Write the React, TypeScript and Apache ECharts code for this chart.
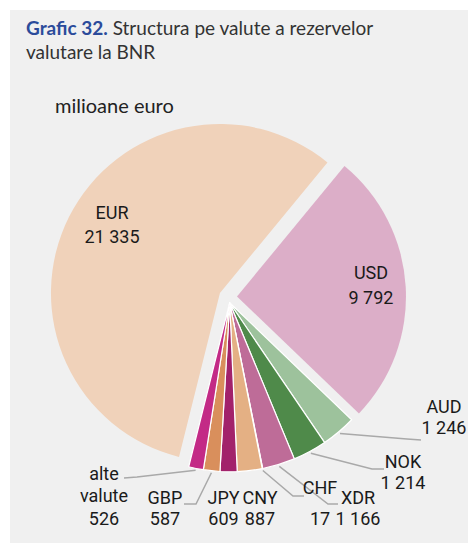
import React, { useEffect, useRef } from "react";
import * as echarts from "echarts";

// ---- data ----
const currencies = ["EUR", "USD", "AUD", "NOK", "XDR", "CHF", "CNY", "JPY", "GBP", "alte valute"];
const values = [21335, 9792, 1246, 1214, 1166, 17, 887, 609, 587, 526];
const labelNames = ["EUR", "USD", "AUD", "NOK", "XDR", "CHF", "CNY", "JPY", "GBP", "alte\nvalute"];
const titleBold = "Grafic 32.";
const titleRest = "Structura pe valute a rezervelor\nvalutare la BNR";
const unitLabel = "milioane euro";

// ---- styles / layout ----
const colors = ["#f0d2ba", "#dcaec8", "#9dc29c", "#4f8a4a", "#be6c98", "#ffffff", "#e4b084", "#a2226b", "#d98f5c", "#c32a86"];
const groups = [[0], [1], [2, 3, 4, 5, 6, 7, 8, 9]];
const groupOffsets = [9, 9, 6];
const C0 = [228, 297];
const R = 169;
const boundaryCw = 39.5; // EUR/USD boundary, degrees clockwise from 12 o'clock
const labelFont = "Roboto, 'Liberation Sans', sans-serif";
const labelPos: Record<number, { x: number; y: number; lh: number; line?: number[][] }> = {
  0: { x: 112, y: 224, lh: 24 },
  1: { x: 371, y: 284.5, lh: 25 },
  2: { x: 444, y: 417, lh: 21, line: [[407, 439], [421, 440]] },
  3: { x: 403, y: 472, lh: 21, line: [[372, 469], [384, 469]] },
  4: { x: 358, y: 507.5, lh: 21, line: [[328, 504], [338, 504]] },
  5: { x: 320, y: 502.5, lh: 31, line: [[293, 496], [304, 496]] },
  6: { x: 260, y: 507.5, lh: 21 },
  7: { x: 223.5, y: 507.5, lh: 21 },
  8: { x: 165, y: 507.5, lh: 21, line: [[196, 504], [184, 504]] },
  9: { x: 104, y: 495.5, lh: 22.5, line: [[137, 477], [124, 478]] },
};

const fmt = (v: number) => String(v).replace(/\B(?=(\d{3})+(?!\d))/g, " ");
const rad = (d: number) => (d * Math.PI) / 180;

export default function App() {
  const ref = useRef<HTMLDivElement>(null);
  useEffect(() => {
    if (!ref.current) return;
    const chart = echarts.init(ref.current, undefined, { renderer: "svg" });
    const total = values.reduce((a, b) => a + b, 0);
    const startCw = boundaryCw - (values[0] / total) * 360;
    const a0: number[] = [];
    const a1: number[] = [];
    let cum = 0;
    values.forEach((v) => {
      a0.push(startCw + (cum / total) * 360);
      cum += v;
      a1.push(startCw + (cum / total) * 360);
    });
    const series = groups.map((members, g) => {
      const gMid = (a0[members[0]] + a1[members[members.length - 1]]) / 2;
      const cx = C0[0] + groupOffsets[g] * Math.sin(rad(gMid));
      const cy = C0[1] - groupOffsets[g] * Math.cos(rad(gMid));
      return {
        type: "pie",
        center: [cx, cy],
        radius: [0, R],
        startAngle: 90 - startCw,
        clockwise: true,
        avoidLabelOverlap: false,
        silent: true,
        minAngle: 0,
        emphasis: { disabled: true },
        data: values.map((v, i) => {
          const on = members.includes(i);
          const lp = labelPos[i];
          return {
            name: currencies[i],
            value: v,
            itemStyle: on
              ? { color: colors[i], borderColor: "#ffffff", borderWidth: g === 2 ? 1.2 : 0 }
              : { color: "rgba(0,0,0,0)", borderWidth: 0 },
            label: { show: on, lineHeight: lp.lh },
            labelLine: { show: on && !!lp.line },
          };
        }),
        label: {
          position: "outside",
          formatter: (p: any) => labelNames[p.dataIndex] + "\n" + fmt(values[p.dataIndex]),
          fontFamily: labelFont,
          fontSize: 18,
          color: "#1a1a1a",
          align: "center",
        },
        labelLine: {
          lineStyle: { color: "#a9a9a9", width: 1.5 },
        },
        labelLayout: (params: any) => {
          const i = params.dataIndex;
          if (!members.includes(i)) return {};
          const lp = labelPos[i];
          const out: any = { x: lp.x, y: lp.y, align: "center", verticalAlign: "middle" };
          if (lp.line) {
            const m = (a0[i] + a1[i]) / 2;
            const sx = cx + (R + 2) * Math.sin(rad(m));
            const sy = cy - (R + 2) * Math.cos(rad(m));
            out.labelLinePoints = [[sx, sy], lp.line[0], lp.line[1]];
          }
          return out;
        },
      };
    });
    chart.setOption({
      animation: false,
      graphic: [
        { type: "rect", z: -10, shape: { x: 10, y: 10, width: 458, height: 533 }, style: { fill: "#f0f0f0" } },
        {
          type: "text",
          style: {
            x: 26,
            y: 39,
            text: "{b|" + titleBold + "} " + titleRest,
            font: "19px Lato",
            fill: "#333333",
            lineHeight: 24,
            verticalAlign: "middle",
            rich: {
              b: { font: "bold 19px Lato", fill: "#2b4b9b", lineHeight: 24 },
            },
          },
        },
        {
          type: "text",
          style: { x: 55, y: 105, text: unitLabel, font: "20px Lato", fill: "#222222", verticalAlign: "middle" },
        },
      ],
      series,
    });
    return () => chart.dispose();
  }, []);
  return (
    <div
      ref={ref}
      style={{ position: "absolute", left: 0, top: 0, width: 468, height: 543, background: "#ffffff" }}
    />
  );
}
